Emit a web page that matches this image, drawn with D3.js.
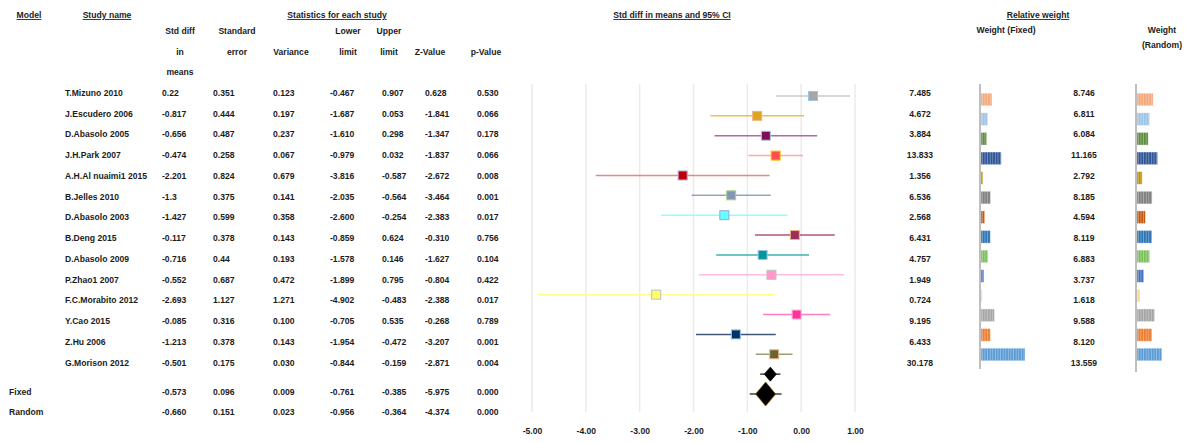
<!DOCTYPE html>
<html>
<head>
<meta charset="utf-8">
<script src="https://cdn.jsdelivr.net/npm/d3@7"></script>
<style>
  body { margin: 0; background: #fff; }
  svg text { font-family: "Liberation Sans", Arial, sans-serif; font-weight: bold; fill: #1c1c1c; font-size: 8.6px; }
  .ul { text-decoration: underline; }
</style>
</head>
<body>
<svg id="chart" width="1188" height="443"></svg>
<script>
// ---- study-level data ----
const studies = ["T.Mizuno 2010", "J.Escudero 2006", "D.Abasolo 2005", "J.H.Park 2007",
  "A.H.Al nuaimi1 2015", "B.Jelles 2010", "D.Abasolo 2003", "B.Deng 2015", "D.Abasolo 2009",
  "P.Zhao1 2007", "F.C.Morabito 2012", "Y.Cao 2015", "Z.Hu 2006", "G.Morison 2012"];
const smd      = [0.22, -0.817, -0.656, -0.474, -2.201, -1.3, -1.427, -0.117, -0.716, -0.552, -2.693, -0.085, -1.213, -0.501];
const stdErr   = [0.351, 0.444, 0.487, 0.258, 0.824, 0.375, 0.599, 0.378, 0.44, 0.687, 1.127, 0.316, 0.378, 0.175];
const variance = [0.123, 0.197, 0.237, 0.067, 0.679, 0.141, 0.358, 0.143, 0.193, 0.472, 1.271, 0.100, 0.143, 0.030];
const lower    = [-0.467, -1.687, -1.610, -0.979, -3.816, -2.035, -2.600, -0.859, -1.578, -1.899, -4.902, -0.705, -1.954, -0.844];
const upper    = [0.907, 0.053, 0.298, 0.032, -0.587, -0.564, -0.254, 0.624, 0.146, 0.795, -0.483, 0.535, -0.472, -0.159];
const zValue   = [0.628, -1.841, -1.347, -1.837, -2.672, -3.464, -2.383, -0.310, -1.627, -0.804, -2.388, -0.268, -3.207, -2.871];
const pValue   = [0.530, 0.066, 0.178, 0.066, 0.008, 0.001, 0.017, 0.756, 0.104, 0.422, 0.017, 0.789, 0.001, 0.004];
const weightFixed  = [7.485, 4.672, 3.884, 13.833, 1.356, 6.536, 2.568, 6.431, 4.757, 1.949, 0.724, 9.195, 6.433, 30.178];
const weightRandom = [8.746, 6.811, 6.084, 11.165, 2.792, 8.185, 4.594, 8.119, 6.883, 3.737, 1.618, 9.588, 8.120, 13.559];

// ---- pooled estimates ----
const models     = ["Fixed", "Random"];
const modelSmd   = [-0.573, -0.660];
const modelSe    = [0.096, 0.151];
const modelVar   = [0.009, 0.023];
const modelLower = [-0.761, -0.956];
const modelUpper = [-0.385, -0.364];
const modelZ     = [-5.975, -4.374];
const modelP     = [0.000, 0.000];

const xTicks = [-5, -4, -3, -2, -1, 0, 1];

// ---- styling ----
const markerFill   = ["#a6a6a6", "#daa520", "#7b0f5a", "#ff5050", "#c00000", "#8497b0", "#66ffff", "#9b2d5c", "#009999", "#ff99cc", "#ffff66", "#ff3399", "#003366", "#666633"];
const markerStroke = ["#9dc3e6", "#f4b183", "#b4c7e7", "#ffc000", "#b4a7d6", "#a9d18e", "#8faadc", "#f4b183", "#9dc3e6", "#bfbfbf", "#bfbfbf", "#ffb3d9", "#9dc3e6", "#f4b183"];
const ciColor      = ["#bfbfbf", "#e9b53c", "#a6508c", "#ff9999", "#e57373", "#8497b0", "#80ffff", "#9b3a62", "#1ba3a3", "#ffb3d9", "#ffff80", "#ff66b3", "#1f3864", "#8c8c5a"];
const barColor     = ["#f4a77a", "#9dc3e6", "#5e8c3e", "#2f5597", "#bf9000", "#7f7f7f", "#c55a11", "#2e75b6", "#7cc05a", "#4472c4", "#ffd966", "#a5a5a5", "#ed7d31", "#5b9bd5"];

const svg = d3.select("#chart");

// row positions
const tableY  = d3.scaleLinear().domain([0, 13]).range([93, 362.5]);
const summaryRow = i => 14.4 + i;               // small gap before pooled rows
const forestY = d3.scaleLinear().domain([0, 15]).range([96, 394]);
const barY    = d3.scaleLinear().domain([0, 13]).range([99.5, 354.5]);

// value scales
const x = d3.scaleLinear().domain([-5, 1]).range([532, 855]);
const wFixed  = d3.scaleLinear().domain([0, 30]).range([0, 43.8]);
const wRandom = d3.scaleLinear().domain([0, 15]).range([0, 27.6]);

const f3 = v => v.toFixed(3);
const raw = v => String(v);

// ---- headers ----
function label(txt, cx, cy, cls, anchor) {
  svg.append("text").attr("x", cx).attr("y", cy).attr("dy", "0.35em")
    .attr("text-anchor", anchor || "middle").attr("class", cls || null).text(txt);
}
label("Model", 29, 15, "ul");
label("Study name", 107, 15, "ul");
label("Statistics for each study", 337, 15, "ul");
label("Std diff in means and 95% CI", 672, 15, "ul");
label("Relative weight", 1038, 15, "ul");
label("Weight (Fixed)", 1006, 30);
label("Weight", 1162, 30);
label("(Random)", 1162, 45);

const colHeads = [
  { cx: 180, lines: ["Std diff", "in", "means"] },
  { cx: 237, lines: ["Standard", "error"] },
  { cx: 291, lines: ["", "Variance"] },
  { cx: 348, lines: ["Lower", "limit"] },
  { cx: 389, lines: ["Upper", "limit"] },
  { cx: 430, lines: ["", "Z-Value"] },
  { cx: 486, lines: ["", "p-Value"] }
];
const headLineY = [31, 52, 72];
colHeads.forEach(c => c.lines.forEach((t, k) => { if (t) label(t, c.cx, headLineY[k]); }));

// ---- statistics table ----
const colX = [162, 213, 273, 330, 382, 425, 477];
const studyCols = [[smd, raw], [stdErr, raw], [variance, f3], [lower, f3], [upper, f3], [zValue, f3], [pValue, f3]];
const modelCols = [modelSmd, modelSe, modelVar, modelLower, modelUpper, modelZ, modelP];

const table = svg.append("g");
studies.forEach((s, i) => {
  const y = tableY(i);
  label(s, 65, y, null, "start");
  studyCols.forEach(([arr, fmt], c) => label(fmt(arr[i]), colX[c], y, null, "start"));
});
models.forEach((m, i) => {
  const y = tableY(summaryRow(i));
  label(m, 9, y, null, "start");
  modelCols.forEach((arr, c) => label(f3(arr[i]), colX[c], y, null, "start"));
});

// ---- forest plot ----
const forest = svg.append("g");
forest.selectAll("line.grid").data(xTicks).join("line")
  .attr("class", "grid")
  .attr("x1", d => x(d)).attr("x2", d => x(d))
  .attr("y1", 84).attr("y2", 412)
  .attr("stroke", "#ebebeb").attr("stroke-width", 1.5);

const axis = d3.axisBottom(x).tickValues(xTicks).tickFormat(d => d.toFixed(2)).tickSize(0).tickPadding(4);
const axisG = forest.append("g").attr("transform", "translate(0,424)").call(axis);
axisG.select(".domain").remove();
axisG.selectAll("text").attr("font-family", null).attr("font-size", null);

forest.selectAll("line.ci").data(studies).join("line")
  .attr("class", "ci")
  .attr("x1", (d, i) => x(lower[i])).attr("x2", (d, i) => x(upper[i]))
  .attr("y1", (d, i) => forestY(i)).attr("y2", (d, i) => forestY(i))
  .attr("stroke", (d, i) => ciColor[i]).attr("stroke-width", 1.5).attr("stroke-opacity", 0.85);

const sq = 9;
forest.selectAll("rect.pt").data(studies).join("rect")
  .attr("class", "pt")
  .attr("x", (d, i) => x(smd[i]) - sq / 2).attr("y", (d, i) => forestY(i) - sq / 2)
  .attr("width", sq).attr("height", sq)
  .attr("fill", (d, i) => markerFill[i])
  .attr("stroke", (d, i) => markerStroke[i]).attr("stroke-width", 1);

// pooled estimates
const diamondSize = [[6, 7], [10, 12]];
const diamondStroke = ["#000", "#7f6000"];
models.forEach((m, i) => {
  const cy = forestY(14 + i);
  forest.append("line")
    .attr("x1", x(modelLower[i])).attr("x2", x(modelUpper[i]))
    .attr("y1", cy).attr("y2", cy)
    .attr("stroke", "#404040").attr("stroke-width", 1.5);
  const [hw, hh] = diamondSize[i];
  const cx = x(modelSmd[i]);
  forest.append("path")
    .attr("d", `M${cx - hw},${cy}L${cx},${cy - hh}L${cx + hw},${cy}L${cx},${cy + hh}Z`)
    .attr("fill", "#000").attr("stroke", diamondStroke[i]).attr("stroke-width", 0.8);
});

// ---- relative weight bars ----
const defs = svg.append("defs");
barColor.forEach((c, i) => {
  const p = defs.append("pattern").attr("id", "stripe" + i)
    .attr("patternUnits", "userSpaceOnUse").attr("width", 2.6).attr("height", 4);
  p.append("rect").attr("width", 2.6).attr("height", 4).attr("fill", c);
  p.append("rect").attr("x", 1.7).attr("width", 0.9).attr("height", 4).attr("fill", "#fff").attr("fill-opacity", 0.35);
});

function weightColumn(values, scale, axisX, labelX, axisEnd) {
  const g = svg.append("g");
  g.selectAll("rect").data(values).join("rect")
    .attr("x", axisX + 1).attr("y", (d, i) => barY(i) - 6.3)
    .attr("width", d => scale(d)).attr("height", 12.6)
    .attr("fill", (d, i) => `url(#stripe${i})`)
    .attr("stroke", "#fff").attr("stroke-opacity", 0.5).attr("stroke-width", 0.6);
  g.append("line").attr("x1", axisX).attr("x2", axisX).attr("y1", 84).attr("y2", axisEnd)
    .attr("stroke", "#bfbfbf").attr("stroke-width", 2);
  values.forEach((v, i) => label(f3(v), labelX, tableY(i)));
}
weightColumn(weightFixed, wFixed, 980, 920, 369);
weightColumn(weightRandom, wRandom, 1136, 1084, 372);
</script>
</body>
</html>
